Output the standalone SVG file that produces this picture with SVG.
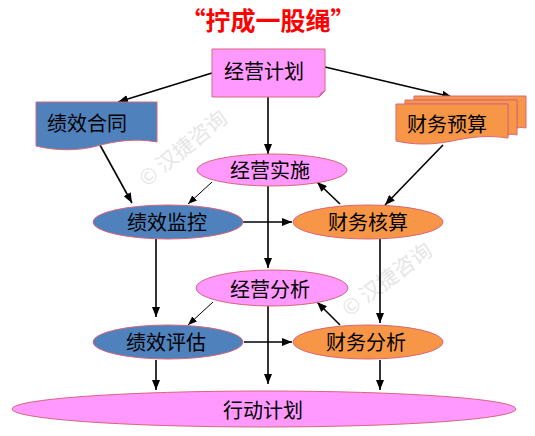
<svg xmlns="http://www.w3.org/2000/svg" width="535" height="436" viewBox="0 0 535 436">
<defs>
<marker id="ah" markerWidth="10" markerHeight="8" refX="10" refY="4" orient="auto" markerUnits="userSpaceOnUse">
<path d="M0,0 L10,4 L0,8 Z" fill="#000"/>
</marker>
<marker id="ahs" markerWidth="9" markerHeight="7" refX="9" refY="3.5" orient="auto" markerUnits="userSpaceOnUse">
<path d="M0,0 L9,3.5 L0,7 Z" fill="#000"/>
</marker>
</defs>
<style>
.t{font-family:"Noto Sans CJK SC","Noto Sans",sans-serif;font-size:20px;fill:#000;text-anchor:middle;dominant-baseline:central}
.pink{fill:#FF99FF;stroke:#D9667A;stroke-width:1}
.blue{fill:#4F81BD;stroke:#D9667A;stroke-width:1}
.orange{fill:#F79646;stroke:#D9667A;stroke-width:1}
.c{stroke:#000;stroke-width:1.6;fill:none;marker-end:url(#ah)}
.cs{stroke:#000;stroke-width:1;fill:none;marker-end:url(#ahs)}
.wm{font-family:"Noto Sans CJK SC",sans-serif;font-size:21px;fill:#e6e6e6;text-anchor:middle;dominant-baseline:central}
</style>
<rect width="535" height="436" fill="#fff"/>
<text class="wm" transform="translate(182,147) rotate(-39)">© 汉捷咨询</text>
<text class="wm" transform="translate(386,278) rotate(-37)">© 汉捷咨询</text>
<text x="268" y="19" style="font-family:'Noto Sans CJK SC',sans-serif;font-size:25px;font-weight:bold;fill:#FF0000;text-anchor:middle;dominant-baseline:central">“拧成一股绳”</text>
<g id="connectors">
<line class="c" x1="212" y1="73" x2="118" y2="102"/>
<line class="c" x1="325" y1="67" x2="452" y2="97"/>
<line class="c" x1="268" y1="97" x2="268" y2="154"/>
<line class="c" x1="100" y1="145" x2="132" y2="203"/>
<line class="c" x1="443" y1="145" x2="385" y2="205"/>
<line class="cs" x1="212" y1="182" x2="188" y2="204"/>
<line class="c" x1="340" y1="204" x2="317" y2="182"/>
<line class="c" x1="243" y1="222" x2="292" y2="222"/>
<line class="c" x1="268" y1="186" x2="268" y2="268"/>
<line class="c" x1="156" y1="239" x2="156" y2="317"/>
<line class="c" x1="380" y1="239" x2="380" y2="323"/>
<line class="cs" x1="213" y1="302" x2="188" y2="325"/>
<line class="c" x1="340" y1="325" x2="317" y2="302"/>
<line class="c" x1="244" y1="342" x2="292" y2="342"/>
<line class="c" x1="268" y1="306" x2="268" y2="384"/>
<line class="c" x1="156" y1="360" x2="156" y2="390"/>
<line class="c" x1="380" y1="360" x2="380" y2="390"/>
</g>
<g id="jingying-jihua">
<path class="pink" d="M212,49 H325 V91 L319,97 H212 Z"/>
<path d="M319,97 L321,93 L325,91" fill="#d078c0" stroke="#D9667A" stroke-width="1"/>
<text class="t" x="264" y="70">经营计划</text>
</g>
<g id="jixiao-hetong">
<path class="blue" d="M36,102 H157 V142 C135,138 115,141 97,146 C78,151 56,151 36,146 Z"/>
<text class="t" x="87" y="122">绩效合同</text>
</g>
<g id="caiwu-yusuan">
<path class="orange" d="M414,96 H526 V128 C520,127 518,128 517,128 V100 H414 Z"/>
<path class="orange" d="M405,100 H517 V135 C513,134 511,134 508,135 V104 H405 Z"/>
<path class="orange" d="M396,104 H508 V138 C488,135 470,137 452,141 C432,145 414,145 396,141 Z"/>
<text class="t" x="447" y="123">财务预算</text>
</g>
<g id="jingying-shishi">
<ellipse class="pink" cx="272" cy="170" rx="75" ry="16"/>
<text class="t" x="270" y="169">经营实施</text>
</g>
<g id="jixiao-jiankong">
<ellipse class="blue" cx="168" cy="222" rx="75" ry="17"/>
<text class="t" x="167" y="221">绩效监控</text>
</g>
<g id="caiwu-hesuan">
<ellipse class="orange" cx="368" cy="222" rx="75" ry="17"/>
<text class="t" x="368" y="221">财务核算</text>
</g>
<g id="jingying-fenxi">
<ellipse class="pink" cx="272" cy="288" rx="76" ry="18"/>
<text class="t" x="270" y="288">经营分析</text>
</g>
<g id="jixiao-pinggu">
<ellipse class="blue" cx="168" cy="342" rx="75" ry="17"/>
<text class="t" x="166" y="341">绩效评估</text>
</g>
<g id="caiwu-fenxi">
<ellipse class="orange" cx="368" cy="342" rx="75" ry="17"/>
<text class="t" x="366" y="341">财务分析</text>
</g>
<g id="xingdong-jihua">
<ellipse class="pink" cx="264" cy="409" rx="252" ry="18"/>
<text class="t" x="263" y="409">行动计划</text>
</g>
</svg>
